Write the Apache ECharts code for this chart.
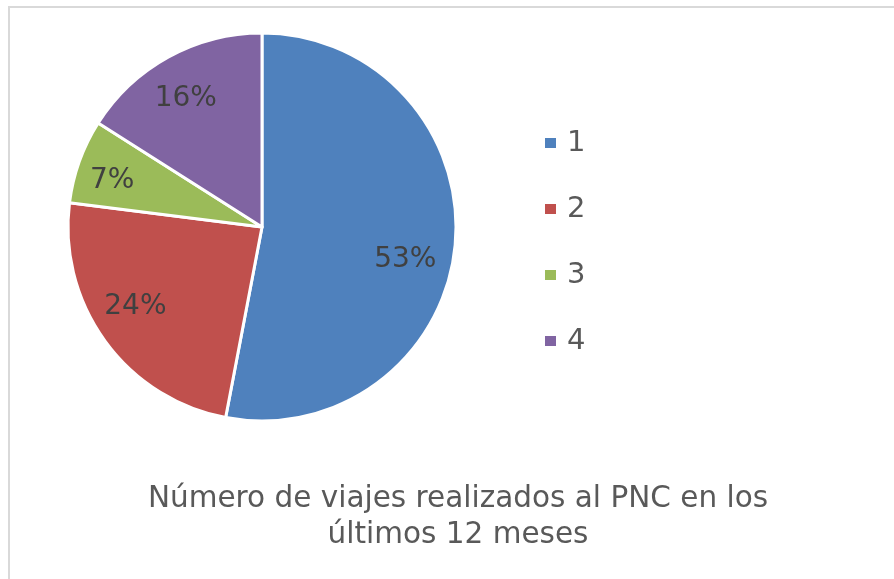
<!DOCTYPE html>
<html>
<head>
<meta charset="utf-8">
<script src="https://cdn.jsdelivr.net/npm/echarts@6/dist/echarts.min.js"></script>
<style>
  html, body { margin: 0; padding: 0; background: #fff; overflow: hidden; }
  .frame {
    position: absolute; left: 8px; top: 6px; width: 900px; height: 600px;
    border: 2px solid #d9d9d9; box-sizing: border-box;
  }
  #chart { position: absolute; left: 0; top: 0; width: 894px; height: 579px; }
</style>
</head>
<body>
<div class="frame"></div>
<div id="chart"></div>
<script>
// categories and shares
const categories = ["1", "2", "3", "4"];
const values = [53, 24, 7, 16];
const colors = ["#4F81BD", "#C0504D", "#9BBB59", "#8064A2"];

// small nudges so the labels sit where Excel put them
const labelNudge = [[-10, 18], [-2, -11], [-5, 6], [-2, 7]];

const pieData = categories.map((name, i) => ({
  name: name,
  value: values[i],
  itemStyle: { color: colors[i] }
}));

const chart = echarts.init(document.getElementById("chart"));
const font = "'DejaVu Sans', Verdana, sans-serif";

chart.setOption({
  animation: false,
  title: {
    text: "Número de viajes realizados al PNC en los\núltimos 12 meses",
    left: 453,
    textAlign: "center",
    top: 476,
    textStyle: {
      fontFamily: font,
      fontSize: 29.5,
      fontWeight: "normal",
      color: "#595959",
      lineHeight: 36
    }
  },
  legend: {
    orient: "vertical",
    left: 538,
    top: 123,
    icon: "rect",
    itemWidth: 13,
    itemHeight: 12,
    itemGap: 36,
    data: categories,
    textStyle: { fontFamily: font, fontSize: 29, color: "#595959", lineHeight: 30, padding: [0, 0, 0, 5] }
  },
  series: [
    {
      type: "pie",
      center: [262, 227],
      radius: [0, 194],
      startAngle: 90,
      clockwise: true,
      label: { show: false },
      labelLine: { show: false },
      itemStyle: { borderColor: "#fff", borderWidth: 3 },
      data: pieData
    },
    {
      // transparent ring only to hold the percentage labels
      type: "pie",
      silent: true,
      center: [262, 227],
      radius: [108, 194],
      startAngle: 90,
      clockwise: true,
      itemStyle: { color: "rgba(0,0,0,0)" },
      label: {
        show: true,
        position: "inside",
        formatter: "{d}%",
        fontFamily: font,
        fontSize: 28,
        color: "#404040"
      },
      labelLine: { show: false },
      data: categories.map((name, i) => ({
        name: name,
        value: values[i],
        label: { offset: labelNudge[i] }
      }))
    }
  ]
});
</script>
</body>
</html>
